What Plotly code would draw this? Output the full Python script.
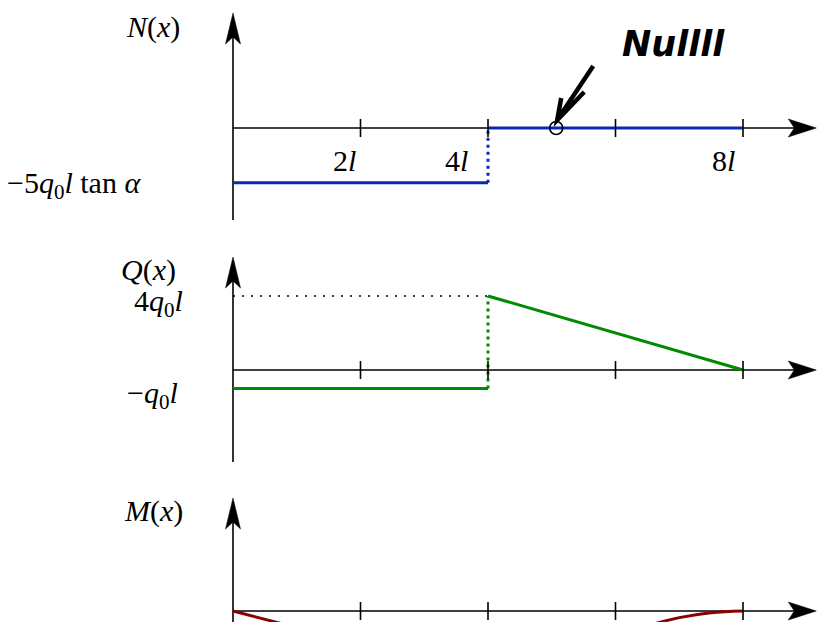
import plotly.graph_objects as go

# ---------------- data ----------------
ticks_x = [2, 4, 6, 8]                       # in units of l
tick_labels = {2: "2<i>l</i>", 4: "4<i>l</i>", 8: "8<i>l</i>"}

# N(x) in units of q0*l*tan(alpha)
N_x_left = [0, 4]
N_y_left = [-5, -5]
N_x_right = [4, 8]
N_y_right = [0, 0]
N_zero_x = [5.07]          # marked zero point ("Nullll")
N_zero_y = [0]

# Q(x) in units of q0*l
Q_x_left = [0, 4]
Q_y_left = [-1, -1]
Q_x_right = [4, 8]
Q_y_right = [4, 0]

# M(x) in units of q0*l^2 (only start and end are visible)
M_x_left = [0, 4]
M_y_left = [0, -4]
M_x_right = [4, 5, 6, 6.5, 7, 7.5, 8]
M_y_right = [-4, -3.3, -1.6, -0.9, -0.4, -0.1, 0]

# ---------------- geometry helpers ----------------
W, H = 817, 622
PX_PER_L = 63.75
X0_PX = 233
x_range = [-X0_PX / PX_PER_L, (W - X0_PX) / PX_PER_L]

def yr(zero_px, scale):
    return [(zero_px - H) / scale, zero_px / scale]

N_zero_px, N_s = 128, 10.94
Q_zero_px, Q_s = 370, 18.5
M_zero_px, M_s = 611, 16.6

BLUE = "#0a28b4"
GREEN = "#008a00"
RED = "#8b0000"

fig = go.Figure()

# N traces
fig.add_trace(go.Scatter(x=N_x_left, y=N_y_left, mode="lines", line=dict(color=BLUE, width=3), yaxis="y"))
fig.add_trace(go.Scatter(x=N_x_right, y=N_y_right, mode="lines", line=dict(color=BLUE, width=3), yaxis="y"))
fig.add_trace(go.Scatter(x=[N_x_left[-1], N_x_right[0]], y=[N_y_left[-1], N_y_right[0]], mode="lines",
                         line=dict(color=BLUE, width=3, dash="3px,4px"), yaxis="y"))

# Q traces
fig.add_trace(go.Scatter(x=[0, Q_x_right[0]], y=[Q_y_right[0], Q_y_right[0]], mode="lines",
                         line=dict(color="black", width=1.6, dash="2px,7px"), yaxis="y2"))
fig.add_trace(go.Scatter(x=Q_x_left, y=Q_y_left, mode="lines", line=dict(color=GREEN, width=3), yaxis="y2"))
fig.add_trace(go.Scatter(x=Q_x_right, y=Q_y_right, mode="lines", line=dict(color=GREEN, width=3), yaxis="y2"))
fig.add_trace(go.Scatter(x=[Q_x_left[-1], Q_x_right[0]], y=[Q_y_left[-1], Q_y_right[0]], mode="lines",
                         line=dict(color=GREEN, width=3, dash="3px,4px"), yaxis="y2"))

# M traces
fig.add_trace(go.Scatter(x=M_x_left, y=M_y_left, mode="lines", line=dict(color=RED, width=3), yaxis="y3"))
fig.add_trace(go.Scatter(x=M_x_right, y=M_y_right, mode="lines", line=dict(color=RED, width=3, shape="spline"),
                         yaxis="y3"))

# zero marker
fig.add_trace(go.Scatter(x=N_zero_x, y=N_zero_y, mode="markers",
                         marker=dict(symbol="circle-open", size=13, color="black", line=dict(width=1.6)),
                         yaxis="y"))

shapes = []
annotations = []
x_tip = 9.15
axes_info = [
    ("y", N_zero_px, N_s, (N_zero_px - 220) / N_s, (N_zero_px - 13) / N_s),
    ("y2", Q_zero_px, Q_s, (Q_zero_px - 462) / Q_s, (Q_zero_px - 257) / Q_s),
    ("y3", M_zero_px, M_s, (M_zero_px - 640) / M_s, (M_zero_px - 498) / M_s),
]
for yref, zpx, s, ybot, ytop in axes_info:
    # horizontal axis
    shapes.append(dict(type="line", xref="x", yref=yref, x0=0, x1=x_tip - 0.3, y0=0, y1=0,
                       line=dict(color="black", width=1.6), layer="below"))
    shapes.append(dict(type="path", xref="x", yref=yref, xsizemode="pixel", ysizemode="pixel",
                       xanchor=x_tip, yanchor=0, path="M0,0 L-28,9 L-22,0 L-28,-9 Z",
                       fillcolor="black", line=dict(color="black", width=0.5)))
    # vertical axis
    shapes.append(dict(type="line", xref="x", yref=yref, x0=0, x1=0, y0=ybot, y1=ytop - 20 / s,
                       line=dict(color="black", width=1.6), layer="below"))
    shapes.append(dict(type="path", xref="x", yref=yref, xsizemode="pixel", ysizemode="pixel",
                       xanchor=0, yanchor=ytop, path="M0,0 L-7.5,-31 L0,-24 L7.5,-31 Z",
                       fillcolor="black", line=dict(color="black", width=0.5)))
    # ticks
    for t in ticks_x:
        shapes.append(dict(type="line", xref="x", yref=yref, ysizemode="pixel",
                           yanchor=0, x0=t, x1=t, y0=-9, y1=9,
                           line=dict(color="black", width=1.6), layer="above"))

# hand-drawn arrow to the zero point
shapes.append(dict(type="path", xref="x", yref="y", xsizemode="pixel", ysizemode="pixel",
                   xanchor=N_zero_x[0], yanchor=N_zero_y[0],
                   path="M37,62 L1,8 M5,30 L1,8 L28,36",
                   line=dict(color="black", width=4.5)))

font = dict(family="Liberation Serif, DejaVu Serif, serif", size=30, color="black")

tick_shift = {2: -3, 4: -18, 8: -6}
for t, lab in tick_labels.items():
    annotations.append(dict(x=t, y=0, xref="x", yref="y", text=lab, showarrow=False,
                            xanchor="right", yanchor="middle", xshift=tick_shift[t], yshift=-32, font=font))

annotations += [
    dict(x=-0.8, y=(N_zero_px - 27) / N_s, xref="x", yref="y", text="<i>N</i>(<i>x</i>)",
         showarrow=False, xanchor="right", yanchor="middle", font=font),
    dict(x=-1.41, y=N_y_left[0], xref="x", yref="y", yshift=-2,
         text="−5<i>q</i><sub>0</sub><i>l</i> tan <i>α</i>",
         showarrow=False, xanchor="right", yanchor="middle", font=font),
    dict(x=-0.86, y=(Q_zero_px - 270) / Q_s, xref="x", yref="y2", text="<i>Q</i>(<i>x</i>)",
         showarrow=False, xanchor="right", yanchor="middle", font=font),
    dict(x=-0.75, y=Q_y_right[0], xref="x", yref="y2", yshift=-7, text="4<i>q</i><sub>0</sub><i>l</i>",
         showarrow=False, xanchor="right", yanchor="middle", font=font),
    dict(x=-0.83, y=Q_y_left[0], xref="x", yref="y2", yshift=-6, text="−<i>q</i><sub>0</sub><i>l</i>",
         showarrow=False, xanchor="right", yanchor="middle", font=font),
    dict(x=-0.75, y=(M_zero_px - 511) / M_s, xref="x", yref="y3", text="<i>M</i>(<i>x</i>)",
         showarrow=False, xanchor="right", yanchor="middle", font=font),
    dict(x=(673 - X0_PX) / PX_PER_L, y=(N_zero_px - 44) / N_s, xref="x", yref="y",
         text="<b><i>Nullll</i></b>", showarrow=False, xanchor="center", yanchor="middle",
         font=dict(family="DejaVu Sans, sans-serif", size=35, color="black")),
]

hidden = dict(visible=False, fixedrange=True)
fig.update_layout(
    width=W, height=H, margin=dict(l=0, r=0, t=0, b=0),
    paper_bgcolor="white", plot_bgcolor="white", showlegend=False,
    xaxis=dict(range=x_range, domain=[0, 1], **hidden),
    yaxis=dict(range=yr(N_zero_px, N_s), domain=[0, 1], **hidden),
    yaxis2=dict(range=yr(Q_zero_px, Q_s), overlaying="y", **hidden),
    yaxis3=dict(range=yr(M_zero_px, M_s), overlaying="y", **hidden),
    shapes=shapes, annotations=annotations,
)

fig.write_html("out.html", config={"displayModeBar": False},
               post_script="document.body.style.margin='0';document.body.style.overflow='hidden';")
